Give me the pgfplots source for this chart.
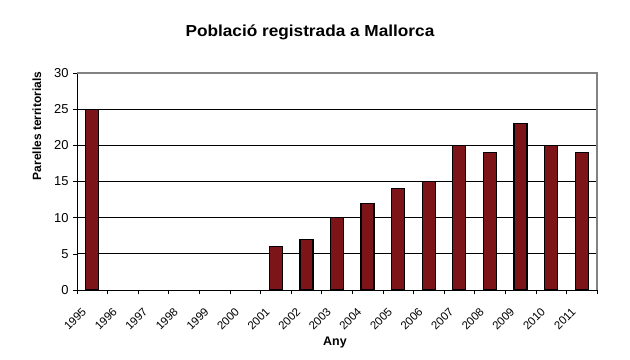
\documentclass[border=0pt]{standalone}
\usepackage{pgfplots}
\pgfplotsset{compat=1.18}
\usepackage{fontspec}
\setmainfont{Liberation Sans}
\definecolor{barred}{RGB}{125,20,24}
\definecolor{frame}{RGB}{130,130,130}
\begin{document}
\begin{tikzpicture}[x=1bp,y=1bp]
\useasboundingbox (0,0) rectangle (630,359);
\begin{axis}[
  at={(77bp,69bp)}, anchor=south west,
  scale only axis, width=520bp, height=217bp,
  xmin=-0.5, xmax=16.5, ymin=0, ymax=30,
  ytick={0,5,...,30},
  xtick={-0.5,0.5,...,16.5},
  x tick label as interval,
  xticklabels={1995,1996,1997,1998,1999,2000,2001,2002,2003,2004,2005,2006,2007,2008,2009,2010,2011},
  axis x line*=bottom, axis y line*=left,
  axis line style={black, line width=0.8pt, -},
  tick align=outside,
  major tick length=4bp,
  tick style={black, line width=0.6pt},
  ymajorgrids, grid style={black, line width=0.8pt},
  /pgf/number format/assume math mode=true,
  yticklabel style={font=\fontsize{13}{15}\selectfont, xshift=-1bp},
  xticklabel style={font=\fontsize{11.5}{13}\selectfont, xshift=-11bp, yshift=-8bp, rotate=45, anchor=north east},
  ylabel={\bfseries Parelles territorials},
  ylabel style={at={(axis description cs:-0.077,0.756)}, anchor=center, font=\fontsize{12}{14}\selectfont},
  xlabel={\bfseries Any},
  xlabel style={at={(axis description cs:0.496,-0.244)}, anchor=center, font=\fontsize{12.5}{14}\selectfont},
  every axis title shift=0pt,
  title={\scalebox{1.08}[1]{\bfseries Població registrada a Mallorca}},
  title style={at={(axis description cs:0.448,1.189)}, anchor=center, font=\fontsize{16}{18}\selectfont},
  clip=false,
  after end axis/.code={
    \draw[frame, line width=1.2pt] (rel axis cs:0,1) -- (rel axis cs:1,1) -- (rel axis cs:1,0);
  },
]
\addplot[ybar, bar width=13bp, fill=barred, draw=black, line width=1.2pt] coordinates {
  (0,25) (6,6) (7,7) (8,10) (9,12) (10,14) (11,15) (12,20) (13,19) (14,23) (15,20) (16,19)
};
\end{axis}
\end{tikzpicture}
\end{document}
